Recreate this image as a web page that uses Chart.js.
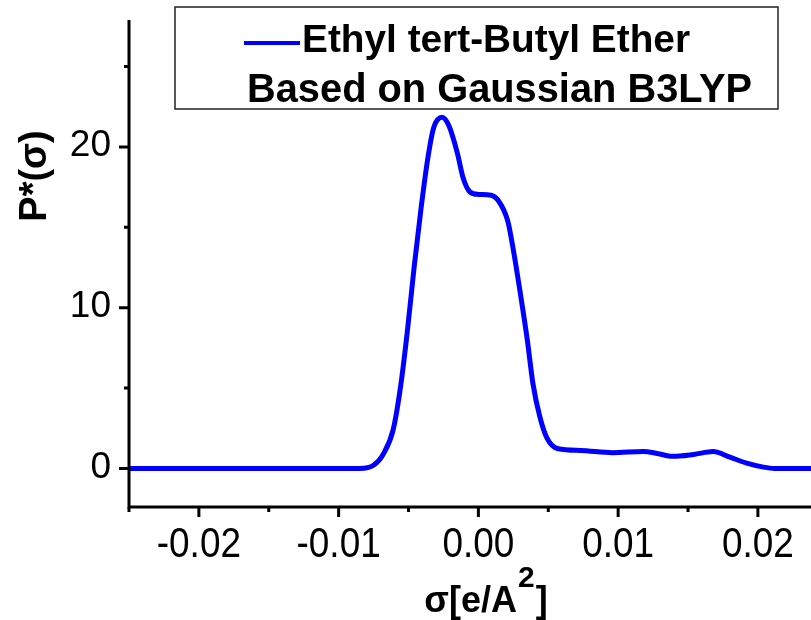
<!DOCTYPE html>
<html>
<head>
<meta charset="utf-8">
<script src="https://cdn.jsdelivr.net/npm/chart.js@4.4.1/dist/chart.umd.min.js"></script>
<style>
  body { margin: 0; background: #fff; }
  #wrap { width: 811px; height: 620px; }
</style>
</head>
<body>
<div id="wrap"><canvas id="sigmaChart" width="811" height="620"></canvas></div>
<script>
// Datos: sigma [e/A^2] y P*(sigma)
const sigmaValues = [-0.025, -0.0085, -0.0075, -0.0068, -0.0061, -0.0056, -0.0051, -0.0046, -0.0041, -0.0036,
    -0.0032, -0.0026, -0.0021, -0.0015, -0.0011, -0.0006, 0.0000, 0.0009, 0.0014, 0.0021,
    0.0025, 0.0030, 0.0035, 0.0039, 0.0044, 0.0049, 0.0057, 0.0073, 0.0096, 0.0118,
    0.0128, 0.0139, 0.0154, 0.0168, 0.0180, 0.0192, 0.0204, 0.0212, 0.024];
const pValues = [0, 0, 0.2, 0.9, 2.4, 4.9, 8.4, 12.5, 16.2, 19.4,
    21.2, 21.85, 21.3, 19.6, 18.1, 17.2, 17.05, 17.0, 16.7, 15.4,
    13.6, 10.9, 8.0, 5.3, 3.2, 1.9, 1.22, 1.12, 0.98, 1.05,
    0.93, 0.75, 0.87, 1.05, 0.7, 0.33, 0.08, 0, 0];

const xMajorTicks = [-0.02, -0.01, 0.00, 0.01, 0.02];
const xMinorTicks = [-0.025, -0.015, -0.005, 0.005, 0.015];
const yMajorTicks = [0, 10, 20];
const yMinorTicks = [5, 15, 25];

const seriesLabel = 'Ethyl tert-Butyl Ether';
const legendSubtitle = 'Based on Gaussian B3LYP';
const lineColor = '#0000ff';

// Texto con escala horizontal opcional
function drawText(ctx, text, x, y, font, align, baseline, sx) {
    ctx.save();
    ctx.font = font;
    ctx.textAlign = align;
    ctx.textBaseline = baseline;
    ctx.fillStyle = '#000';
    ctx.translate(x, y);
    ctx.scale(sx || 1, 1);
    ctx.fillText(text, 0, 0);
    ctx.restore();
}

// Plugin para ejes, marcas, títulos y leyenda
const decorPlugin = {
    id: 'decor',
    afterDraw(chart) {
        const ctx = chart.ctx;
        const area = chart.chartArea;
        const xs = chart.scales.x;
        const ys = chart.scales.y;

        ctx.save();
        ctx.strokeStyle = '#000';
        ctx.lineWidth = 3;
        ctx.lineCap = 'butt';
        // ejes
        ctx.beginPath();
        ctx.moveTo(area.left, area.top);
        ctx.lineTo(area.left, area.bottom + 1.5);
        ctx.moveTo(area.left - 1.5, area.bottom);
        ctx.lineTo(area.right, area.bottom);
        ctx.stroke();

        // marcas del eje x
        ctx.beginPath();
        xMajorTicks.forEach(v => {
            const px = xs.getPixelForValue(v);
            ctx.moveTo(px, area.bottom);
            ctx.lineTo(px, area.bottom + 10);
        });
        xMinorTicks.forEach(v => {
            const px = xs.getPixelForValue(v);
            ctx.moveTo(px, area.bottom);
            ctx.lineTo(px, area.bottom + 5);
        });
        // marcas del eje y
        yMajorTicks.forEach(v => {
            const py = ys.getPixelForValue(v);
            ctx.moveTo(area.left, py);
            ctx.lineTo(area.left - 10, py);
        });
        yMinorTicks.forEach(v => {
            const py = ys.getPixelForValue(v);
            ctx.moveTo(area.left, py);
            ctx.lineTo(area.left - 5, py);
        });
        ctx.stroke();
        ctx.restore();

        // etiquetas
        xMajorTicks.forEach(v => {
            drawText(ctx, v.toFixed(2), xs.getPixelForValue(v), area.bottom + 17,
                '42px "Liberation Sans", Arial, sans-serif', 'center', 'top', 0.88);
        });
        yMajorTicks.forEach(v => {
            drawText(ctx, String(v), area.left - 18, ys.getPixelForValue(v) - 1,
                '37px "Liberation Sans", Arial, sans-serif', 'right', 'middle', 1);
        });

        // título eje y
        ctx.save();
        ctx.translate(36, 176);
        ctx.rotate(-Math.PI / 2);
        drawText(ctx, 'P*(σ)', 0, 0, 'bold 38px "Liberation Sans", Arial, sans-serif', 'center', 'middle', 1);
        ctx.restore();

        // título eje x con superíndice
        ctx.save();
        const mainFont = 'bold 36px "Liberation Sans", Arial, sans-serif';
        const supFont = 'bold 30px "Liberation Sans", Arial, sans-serif';
        ctx.font = mainFont;
        const w1 = ctx.measureText('σ[e/A').width;
        const w3 = ctx.measureText(']').width;
        ctx.font = supFont;
        const w2 = ctx.measureText('2').width;
        ctx.restore();
        let tx = 485 - (w1 + w2 + w3) / 2;
        const base = 612;
        drawText(ctx, 'σ[e/A', tx, base, mainFont, 'left', 'alphabetic', 1);
        drawText(ctx, '2', tx + w1 + 1, base - 25, supFont, 'left', 'alphabetic', 1);
        drawText(ctx, ']', tx + w1 + w2 + 2, base, mainFont, 'left', 'alphabetic', 1);

        // leyenda
        ctx.save();
        ctx.strokeStyle = '#222';
        ctx.lineWidth = 1.5;
        ctx.strokeRect(175, 7, 603, 102);
        ctx.strokeStyle = lineColor;
        ctx.lineWidth = 4;
        ctx.beginPath();
        ctx.moveTo(244, 43);
        ctx.lineTo(300, 43);
        ctx.stroke();
        ctx.restore();

        const f1 = 'bold 38px "Liberation Sans", Arial, sans-serif';
        const f2 = 'bold 40px "Liberation Sans", Arial, sans-serif';
        ctx.save();
        ctx.font = f1;
        const s1 = 388 / ctx.measureText(seriesLabel).width;
        ctx.font = f2;
        const s2 = 505 / ctx.measureText(legendSubtitle).width;
        ctx.restore();
        drawText(ctx, seriesLabel, 302, 52, f1, 'left', 'alphabetic', s1);
        drawText(ctx, legendSubtitle, 247, 102, f2, 'left', 'alphabetic', s2);
    }
};

const ctx = document.getElementById('sigmaChart').getContext('2d');
const sigmaChart = new Chart(ctx, {
    type: 'line',
    data: {
        datasets: [{
            label: seriesLabel,
            data: sigmaValues.map((s, i) => ({ x: s, y: pValues[i] })),
            borderColor: lineColor,
            borderWidth: 5,
            pointRadius: 0,
            fill: false,
            cubicInterpolationMode: 'monotone'
        }]
    },
    options: {
        responsive: false,
        animation: false,
        layout: { padding: { left: 129, top: 20, right: 0, bottom: 113 } },
        plugins: {
            legend: { display: false },
            tooltip: { enabled: false }
        },
        scales: {
            x: {
                type: 'linear',
                min: -0.025,
                max: 0.0238,
                grid: { display: false },
                border: { display: false },
                ticks: { display: false },
                afterFit: scale => { scale.height = 0; }
            },
            y: {
                min: -2.4,
                max: 27.9,
                grid: { display: false },
                border: { display: false },
                ticks: { display: false },
                afterFit: scale => { scale.width = 0; }
            }
        }
    },
    plugins: [decorPlugin]
});
</script>
</body>
</html>
